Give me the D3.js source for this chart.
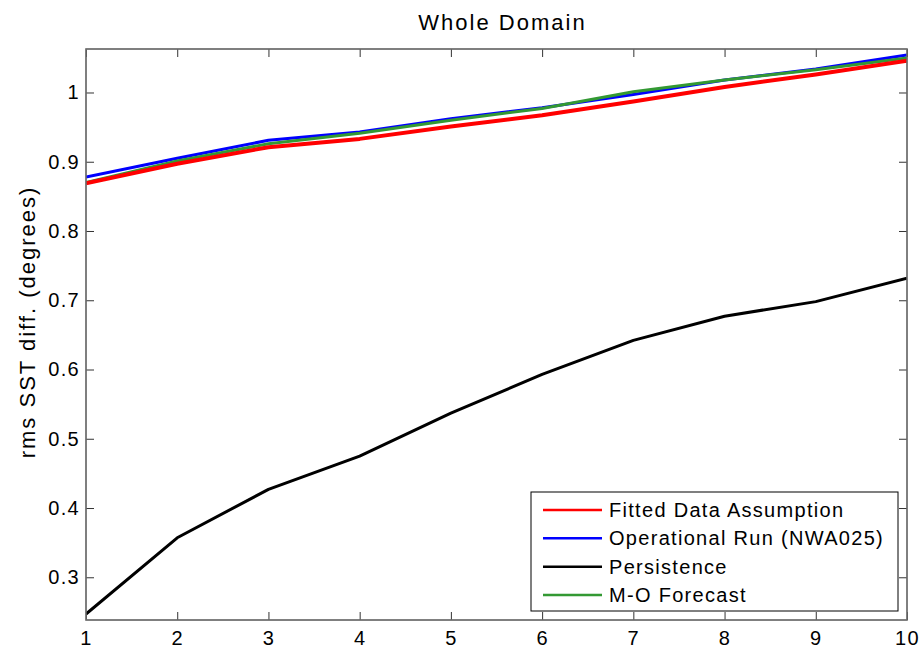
<!DOCTYPE html>
<html>
<head>
<meta charset="utf-8">
<script src="https://cdn.jsdelivr.net/npm/d3@7"></script>
<style>
  html, body { margin: 0; padding: 0; background: #fff; }
  svg { display: block; }
  text { font-family: "Liberation Sans", Arial, Helvetica, sans-serif; fill: #000; }
</style>
</head>
<body>
<svg id="chart" width="922" height="650"></svg>
<script>
// ---- data ----
const leadDays = [1, 2, 3, 4, 5, 6, 7, 8, 9, 10];
const fittedData = [0.869, 0.897, 0.921, 0.933, 0.951, 0.967, 0.987, 1.008, 1.026, 1.046];
const operationalRun = [0.878, 0.905, 0.931, 0.943, 0.962, 0.978, 0.997, 1.018, 1.034, 1.054];
const persistence = [0.247, 0.357, 0.427, 0.475, 0.537, 0.593, 0.642, 0.677, 0.698, 0.732];
const moForecast = [0.870, 0.901, 0.926, 0.941, 0.960, 0.977, 1.001, 1.018, 1.033, 1.050];
const xTicks = [1, 2, 3, 4, 5, 6, 7, 8, 9, 10];
const yTicks = [0.3, 0.4, 0.5, 0.6, 0.7, 0.8, 0.9, 1];
const seriesNames = ["Fitted Data Assumption", "Operational Run (NWA025)", "Persistence", "M-O Forecast"];
const seriesColors = ["#ff0000", "#0000ff", "#000000", "#339933"];
const titleText = "Whole Domain";
const yLabelText = "rms SST diff. (degrees)";

// ---- layout ----
const svg = d3.select("#chart");
const pL = 86, pR = 907, pT = 49, pB = 620;
const x = d3.scaleLinear().domain([1, 10]).range([pL, pR]);
const y = d3.scaleLinear().domain([0.2383, 1.0628]).range([pB, pT]);
const fontSize = 20, ls = "1.3px";
const bigSize = 22, bigLs = "2px";
const tickLen = 8;

// plot box
svg.append("rect").attr("x", pL).attr("y", pT)
  .attr("width", pR - pL).attr("height", pB - pT)
  .attr("fill", "#fff").attr("stroke", "#6e6e6e").attr("stroke-width", 1);

// axes (inward ticks, all four sides)
const fmtY = d => (d === 1 ? "1" : d3.format(".1f")(d));
const gB = svg.append("g").attr("transform", `translate(0,${pB})`)
  .call(d3.axisBottom(x).tickValues(xTicks).tickFormat(d3.format("d")).tickSizeInner(-tickLen).tickSizeOuter(0).tickPadding(11));
const gT = svg.append("g").attr("transform", `translate(0,${pT})`)
  .call(d3.axisTop(x).tickValues(xTicks).tickFormat("").tickSizeInner(-tickLen).tickSizeOuter(0));
const gL = svg.append("g").attr("transform", `translate(${pL},0)`)
  .call(d3.axisLeft(y).tickValues(yTicks).tickFormat(fmtY).tickSizeInner(-tickLen).tickSizeOuter(0).tickPadding(6));
const gR = svg.append("g").attr("transform", `translate(${pR},0)`)
  .call(d3.axisRight(y).tickValues(yTicks).tickFormat("").tickSizeInner(-tickLen).tickSizeOuter(0));
[gB, gT, gL, gR].forEach(g => {
  g.select(".domain").remove();
  g.selectAll(".tick line").attr("stroke", "#333").attr("stroke-width", 1);
  g.selectAll(".tick text").attr("font-size", fontSize).attr("letter-spacing", ls)
    .style("font-family", '"Liberation Sans", Arial, sans-serif').attr("fill", "#000");
});

// lines
const line = d3.line().x((d, i) => x(leadDays[i])).y(d => y(d));
const plotSeries = [
  { v: operationalRun, c: seriesColors[1], w: 3 },
  { v: persistence, c: seriesColors[2], w: 3 },
  { v: moForecast, c: seriesColors[3], w: 3 },
  { v: fittedData, c: seriesColors[0], w: 4 }
];
svg.append("clipPath").attr("id", "clip").append("rect")
  .attr("x", pL).attr("y", pT).attr("width", pR - pL).attr("height", pB - pT);
const gLines = svg.append("g").attr("clip-path", "url(#clip)");
plotSeries.forEach(s => {
  gLines.append("path").datum(s.v).attr("d", line)
    .attr("fill", "none").attr("stroke", s.c).attr("stroke-width", s.w)
    .attr("stroke-linejoin", "round");
});
// redraw box border on top
svg.append("rect").attr("x", pL).attr("y", pT)
  .attr("width", pR - pL).attr("height", pB - pT)
  .attr("fill", "none").attr("stroke", "#6e6e6e").attr("stroke-width", 1.5);

// title
svg.append("text").attr("x", (pL + pR) / 2 + 6).attr("y", 30)
  .attr("text-anchor", "middle").attr("font-size", bigSize).attr("letter-spacing", bigLs)
  .text(titleText);

// y label
svg.append("text").attr("transform", `translate(35,${322}) rotate(-90)`)
  .attr("text-anchor", "middle").attr("font-size", bigSize).attr("letter-spacing", bigLs)
  .text(yLabelText);

// legend
const lg = svg.append("g");
lg.append("rect").attr("x", 531).attr("y", 492).attr("width", 367).attr("height", 119)
  .attr("fill", "#fff").attr("stroke", "#000").attr("stroke-width", 1);
const rowY = d3.scalePoint().domain(seriesNames).range([510, 595]);
seriesNames.forEach((n, i) => {
  const yy = rowY(n);
  lg.append("line").attr("x1", 543).attr("x2", 602).attr("y1", yy).attr("y2", yy)
    .attr("stroke", seriesColors[i]).attr("stroke-width", 2.5);
  lg.append("text").attr("x", 609).attr("y", yy + 7).attr("font-size", fontSize)
    .attr("letter-spacing", ls).text(n);
});
</script>
</body>
</html>
